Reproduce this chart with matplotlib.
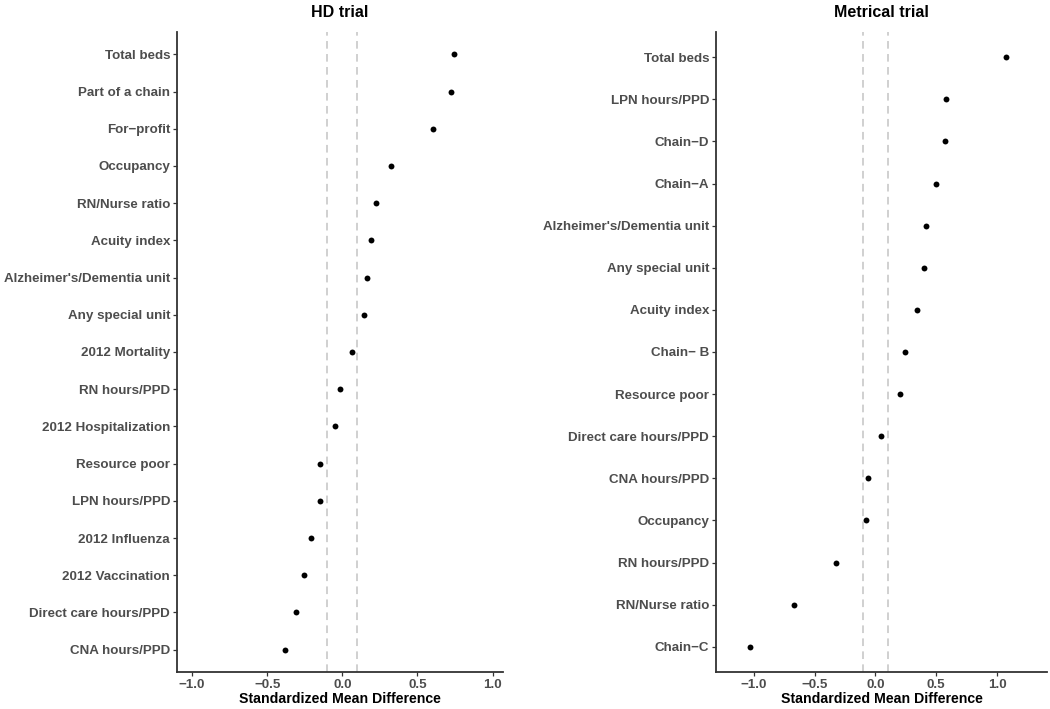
import matplotlib.pyplot as plt

plt.rcParams['font.family'] = ['Liberation Sans', 'DejaVu Sans']

# HD trial
hd_labels = ['Total beds', 'Part of a chain', 'For\u2212profit', 'Occupancy', 'RN/Nurse ratio',
             'Acuity index', "Alzheimer's/Dementia unit", 'Any special unit', '2012 Mortality',
             'RN hours/PPD', '2012 Hospitalization', 'Resource poor', 'LPN hours/PPD',
             '2012 Influenza', '2012 Vaccination', 'Direct care hours/PPD', 'CNA hours/PPD']
hd_smd = [0.742, 0.722, 0.603, 0.321, 0.222, 0.191, 0.164, 0.142, 0.062,
          -0.017, -0.049, -0.148, -0.148, -0.208, -0.258, -0.31, -0.379]

# Metrical trial
met_labels = ['Total beds', 'LPN hours/PPD', 'Chain\u2212D', 'Chain\u2212A', "Alzheimer's/Dementia unit",
              'Any special unit', 'Acuity index', 'Chain\u2212 B', 'Resource poor',
              'Direct care hours/PPD', 'CNA hours/PPD', 'Occupancy', 'RN hours/PPD',
              'RN/Nurse ratio', 'Chain\u2212C']
met_smd = [1.07, 0.58, 0.575, 0.50, 0.42, 0.397, 0.345, 0.246, 0.205,
           0.049, -0.058, -0.08, -0.32, -0.666, -1.033]

threshold = 0.1


def panel(ax, title, labels, values, xlim):
    n = len(labels)
    ypos = list(range(n, 0, -1))
    for t in (-threshold, threshold):
        ax.axvline(t, color='#c4c4c4', lw=1.1, linestyle=(0, (5, 3.5)), zorder=1)
    ax.scatter(values, ypos, s=18, color='black', zorder=3, linewidths=0)
    ax.set_yticks(ypos)
    ax.set_yticklabels(labels, fontsize=9.6, fontweight='bold', color='#4d4d4d')
    ax.set_ylim(0.4, n + 0.6)
    ax.set_xlim(*xlim)
    ax.set_xticks([-1.0, -0.5, 0.0, 0.5, 1.0])
    ax.set_xticklabels(['\u22121.0', '\u22120.5', '0.0', '0.5', '1.0'],
                       fontsize=9.6, fontweight='bold', color='#4d4d4d')
    ax.set_xlabel('Standardized Mean Difference', fontsize=10.2, fontweight='bold',
                  color='black', labelpad=1)
    ax.set_title(title, fontsize=11.5, fontweight='bold', pad=11)
    for s in ('top', 'right'):
        ax.spines[s].set_visible(False)
    for s in ('left', 'bottom'):
        ax.spines[s].set_color('#333333')
        ax.spines[s].set_linewidth(1.3)
    ax.tick_params(length=3, width=0.9, color='#333333', pad=2)


fig = plt.figure(figsize=(10.5, 7.09), dpi=100)
ax1 = fig.add_axes([0.1686, 0.0522, 0.3105, 0.9027])
ax2 = fig.add_axes([0.6819, 0.0522, 0.3152, 0.9027])

panel(ax1, 'HD trial', hd_labels, hd_smd, (-1.1, 1.07))
panel(ax2, 'Metrical trial', met_labels, met_smd, (-1.31, 1.41))

fig.savefig('out.png', dpi=100)
plt.close(fig)
